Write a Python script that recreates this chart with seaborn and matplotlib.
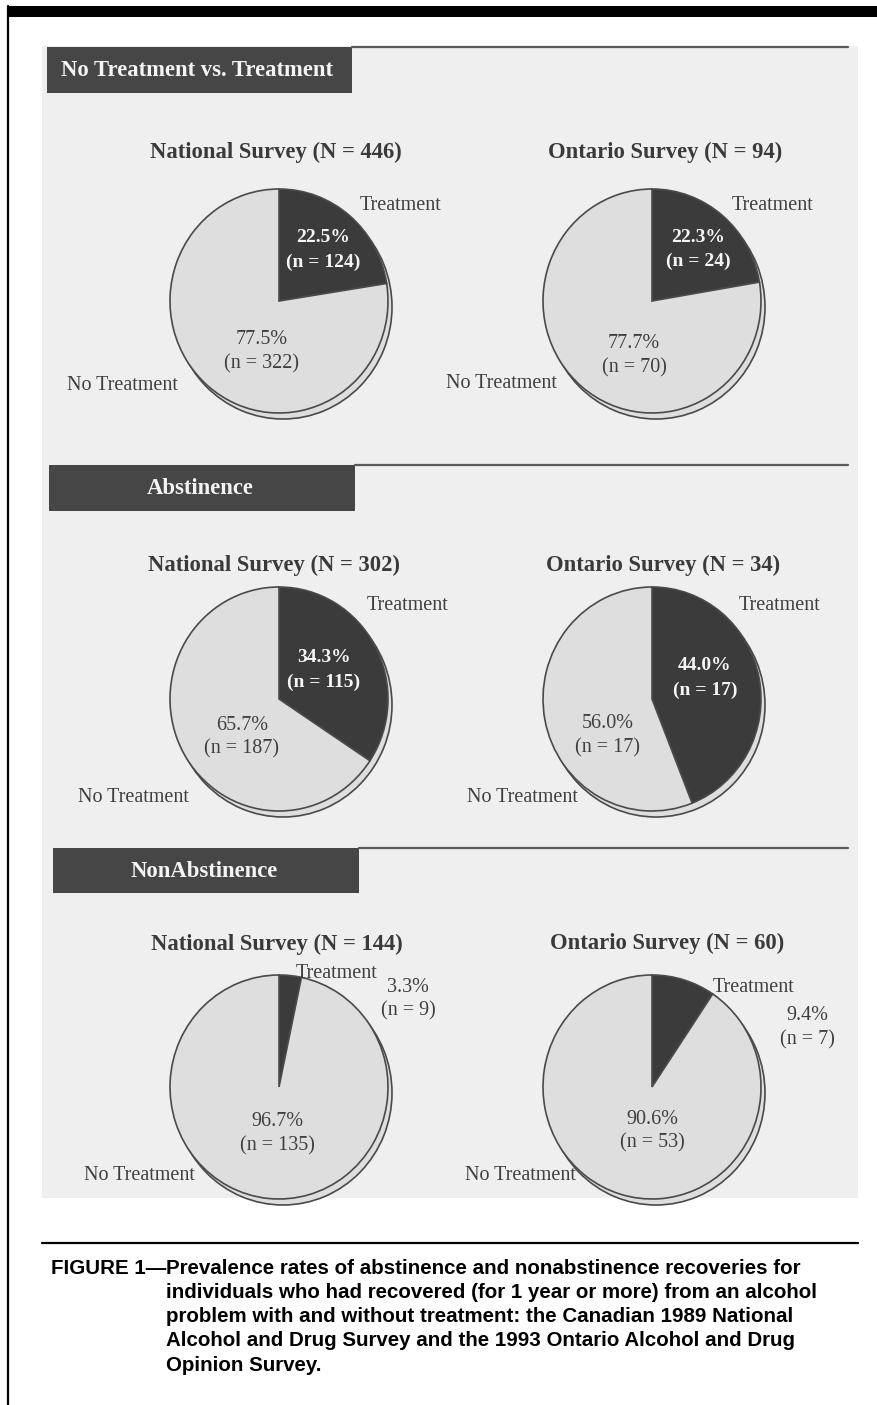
import matplotlib
matplotlib.use('Agg')
import matplotlib.pyplot as plt
import matplotlib.patches as mpatches
import seaborn as sns

# data
groups = ['No Treatment vs. Treatment', 'Abstinence', 'NonAbstinence']
surveys = ['National Survey', 'Ontario Survey']
survey_N = [[446, 94], [302, 34], [144, 60]]
treat_pct = [[22.5, 22.3], [34.3, 44.0], [3.3, 9.4]]
no_treat_pct = [[77.5, 77.7], [65.7, 56.0], [96.7, 90.6]]
treat_n = [[124, 24], [115, 17], [9, 7]]
no_treat_n = [[322, 70], [187, 17], [135, 53]]

sns.set_theme(style='white')
plt.rcParams['font.family'] = ['Liberation Serif', 'DejaVu Serif']

dark, light = sns.color_palette(['#3b3b3b', '#dedede'])
panel_bg = '#efefef'
edge = '#4a4a4a'
txt = '#3f3f3f'

W, H = 878, 1405
fig = plt.figure(figsize=(W / 100, H / 100), dpi=100)
fig.patch.set_facecolor('white')

# full-figure axes in pixel units for the page furniture
bg = fig.add_axes([0, 0, 1, 1], zorder=0)
bg.set_xlim(0, W)
bg.set_ylim(H, 0)
bg.axis('off')

bg.add_patch(mpatches.Rectangle((7, 6), W - 7, 11, color='black', lw=0))
bg.plot([8, 8], [6, H], color='black', lw=1.6)
bg.add_patch(mpatches.Rectangle((42, 46), 816, 1152, color=panel_bg, lw=0))
bg.plot([42, 858], [1243, 1243], color='black', lw=1.6)

# section headers
hdr_box = [(47, 47, 305, 46), (49, 465, 306, 46), (53, 848, 306, 45)]
for g, (x0, y0, w, h) in zip(groups, hdr_box):
    bg.add_patch(mpatches.Rectangle((x0, y0), w, h, color='#464646', lw=0))
    bg.plot([x0 + w, 848], [y0, y0], color='#5a5a5a', lw=1.6)
    bg.text(x0 + w / 2 - 2, y0 + h / 2 + 1, g, color='#f4f4f4', fontsize=16.3,
            fontweight='bold', ha='center', va='center')

# layout of the six pies (pixels)
row_y = [301, 699, 1087]
col_x = [279, 652]
rx, ry = 109, 112
title_pos = [[(276, 152), (665, 152)], [(274, 565), (663, 565)], [(277, 944), (667, 943)]]
treat_lbl = [[(81, -95), (80, -96)], [(88, -94), (87, -93)], [(17, -114), (61, -100)]]
notreat_lbl = [[(-101, 84), (-95, 83)], [(-90, 98), (-74, 99)], [(-84, 88), (-76, 89)]]
treat_txt = [[(44, -63), (46, -64)], [(45, -41), (53, -33)], [(129, -100), (155, -71)]]
notreat_txt = [[(-17, 39), (-18, 43)], [(-37, 26), (-44, 25)], [(-2, 35), (0, 32)]]

half = 150
for r in range(3):
    for c in range(2):
        cx, cy = col_x[c], row_y[r]
        ax = fig.add_axes([(cx - half) / W, 1 - (cy + half) / H, 2 * half / W, 2 * half / H],
                          zorder=1)
        # offset shadow disc behind the pie
        ax.pie([1], colors=[light], center=(4 / rx, -6 / ry), radius=1,
               wedgeprops=dict(edgecolor=edge, linewidth=1.2))
        ax.pie([treat_pct[r][c], no_treat_pct[r][c]], colors=[dark, light],
               startangle=90, counterclock=False, radius=1,
               wedgeprops=dict(edgecolor=edge, linewidth=1.2))
        ax.set_aspect('auto')
        ax.set_xlim(-half / rx, half / rx)
        ax.set_ylim(-half / ry, half / ry)
        ax.axis('off')

# overlay for all the pie texts
top = fig.add_axes([0, 0, 1, 1], zorder=2)
top.set_xlim(0, W)
top.set_ylim(H, 0)
top.axis('off')
top.patch.set_alpha(0)

lbl = 14.5
for r in range(3):
    for c in range(2):
        cx, cy = col_x[c], row_y[r]
        tx, ty = title_pos[r][c]
        top.text(tx, ty, f'{surveys[c]} (N = {survey_N[r][c]})', fontsize=16.3,
                 fontweight='bold', color='#3a3a3a', ha='center', va='center')

        dx, dy = treat_lbl[r][c]
        top.text(cx + dx, cy + dy, 'Treatment', fontsize=lbl, color=txt,
                 ha='left', va='center')
        dx, dy = notreat_lbl[r][c]
        top.text(cx + dx, cy + dy, 'No Treatment', fontsize=lbl, color=txt,
                 ha='right', va='center')

        inside = r < 2
        col = '#f6f6f6' if inside else txt
        wt = 'bold' if inside else 'normal'
        fs = 14 if inside else lbl
        dx, dy = treat_txt[r][c]
        top.text(cx + dx, cy + dy, f'{treat_pct[r][c]:.1f}%', fontsize=fs, color=col,
                 fontweight=wt, ha='center', va='center')
        top.text(cx + dx, cy + dy + 24, f'(n = {treat_n[r][c]})', fontsize=fs, color=col,
                 fontweight=wt, ha='center', va='center')
        dx, dy = notreat_txt[r][c]
        top.text(cx + dx, cy + dy, f'{no_treat_pct[r][c]:.1f}%', fontsize=lbl, color=txt,
                 ha='center', va='center')
        top.text(cx + dx, cy + dy + 24, f'(n = {no_treat_n[r][c]})', fontsize=lbl, color=txt,
                 ha='center', va='center')

# caption
caption = ['Prevalence rates of abstinence and nonabstinence recoveries for',
           'individuals who had recovered (for 1 year or more) from an alcohol',
           'problem with and without treatment: the Canadian 1989 National',
           'Alcohol and Drug Survey and the 1993 Ontario Alcohol and Drug',
           'Opinion Survey.']
cap_font = dict(fontsize=14.8, fontweight='bold', color='black', va='center',
                family=['Liberation Sans', 'DejaVu Sans'])
top.text(166, 1268, 'FIGURE 1\u2014', ha='right', **cap_font)
for i, line in enumerate(caption):
    top.text(166, 1268 + i * 24.3, line, ha='left', **cap_font)

fig.savefig('out.png', dpi=100)
